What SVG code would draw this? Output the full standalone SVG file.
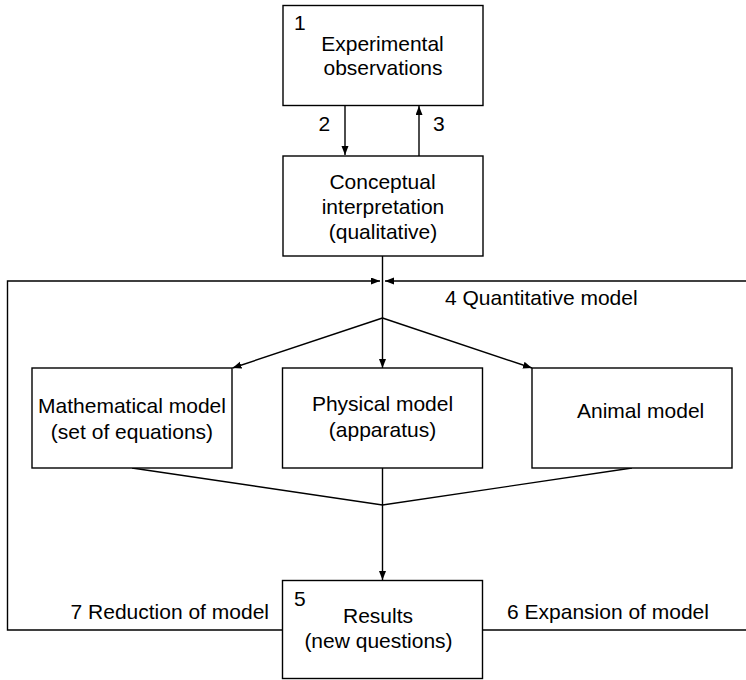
<svg xmlns="http://www.w3.org/2000/svg" width="746" height="680" viewBox="0 0 746 680">
<style>
.box{fill:#fff;stroke:#000;stroke-width:1.4}
.ln{fill:none;stroke:#000;stroke-width:1.4}
.t{font-family:"Liberation Sans",Arial,Helvetica,sans-serif;font-size:21px;fill:#000}
.c{text-anchor:middle}
.e{text-anchor:end}
</style>
<defs>
<marker id="ah" markerUnits="userSpaceOnUse" markerWidth="10" markerHeight="8" refX="9" refY="3.5" orient="auto">
<path d="M0,0 L9,3.5 L0,7 Z" fill="#000"/>
</marker>
</defs>
<g id="connectors">
<path class="ln" d="M345,106 L345,155" marker-end="url(#ah)"/>
<path class="ln" d="M419,156 L419,106" marker-end="url(#ah)"/>
<path class="ln" d="M382.5,256 L382.5,368" marker-end="url(#ah)"/>
<path class="ln" d="M282.5,630 L7.5,630 L7.5,281 L380,281" marker-end="url(#ah)"/>
<path class="ln" d="M482.5,630 L746,630"/>
<path class="ln" d="M746,281 L385,281" marker-end="url(#ah)"/>
<path class="ln" d="M382.5,318 L232.5,368" marker-end="url(#ah)"/>
<path class="ln" d="M382.5,318 L532,368" marker-end="url(#ah)"/>
<path class="ln" d="M132,468 L382.5,505 L632,468"/>
<path class="ln" d="M382.5,468 L382.5,580" marker-end="url(#ah)"/>
<text class="t" x="318.5" y="131">2</text>
<text class="t" x="433" y="131">3</text>
<text class="t" x="445" y="305">4 Quantitative model</text>
<text class="t e" x="269" y="619">7 Reduction of model</text>
<text class="t" x="507" y="619">6 Expansion of model</text>
</g>
<g id="n1">
<rect class="box" x="283" y="5.5" width="200" height="100"/>
<text class="t" x="294" y="30">1</text>
<text class="t c" x="382.5" y="50.5">Experimental</text>
<text class="t c" x="383" y="75">observations</text>
</g>
<g id="n2">
<rect class="box" x="283" y="156" width="200" height="100"/>
<text class="t c" x="382.5" y="188.5">Conceptual</text>
<text class="t c" x="383" y="213.5">interpretation</text>
<text class="t c" x="383" y="238.5">(qualitative)</text>
</g>
<g id="n_math">
<rect class="box" x="32" y="368" width="200" height="100"/>
<text class="t c" x="132" y="412.5">Mathematical model</text>
<text class="t c" x="132" y="438.5">(set of equations)</text>
</g>
<g id="n_phys">
<rect class="box" x="282.5" y="368" width="200" height="100"/>
<text class="t c" x="382.5" y="410.5">Physical model</text>
<text class="t c" x="382.5" y="436.5">(apparatus)</text>
</g>
<g id="n_animal">
<rect class="box" x="532" y="368" width="200" height="100"/>
<text class="t" x="577" y="417.5">Animal model</text>
</g>
<g id="n5">
<rect class="box" x="282.5" y="580.5" width="200" height="98"/>
<text class="t" x="294" y="606">5</text>
<text class="t c" x="378" y="623">Results</text>
<text class="t c" x="378.5" y="648">(new questions)</text>
</g>
</svg>
